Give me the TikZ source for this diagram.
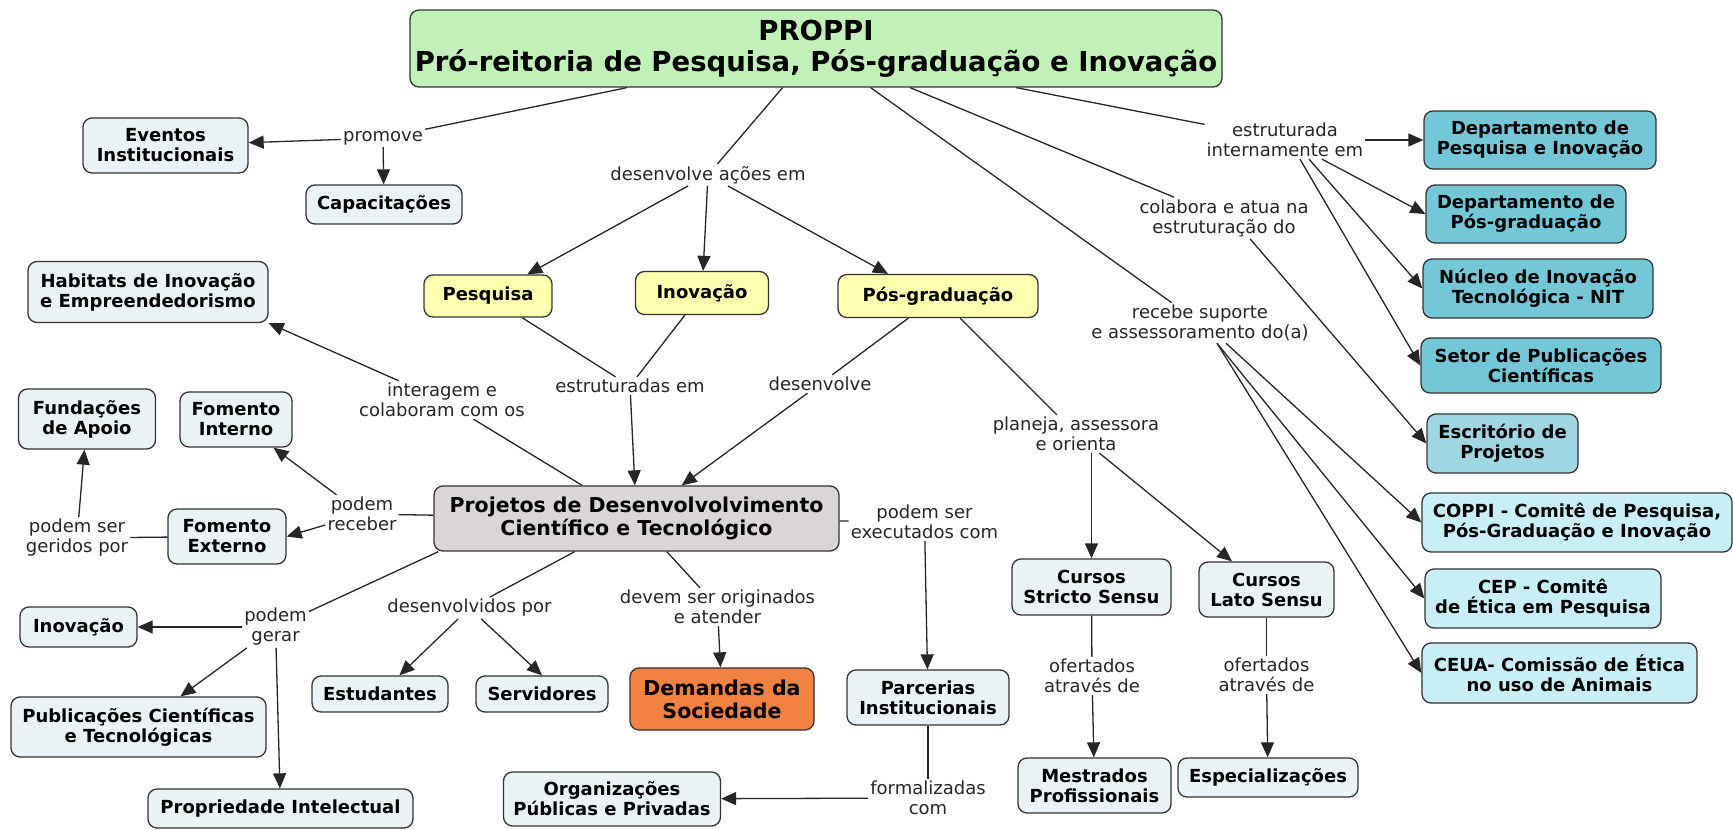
\documentclass[tikz,border=0pt]{standalone}
\usepackage{fontspec}
\setmainfont{DejaVu Sans}
\usepackage{tikz}
\usetikzlibrary{arrows.meta, positioning}

\definecolor{titlegreen}{RGB}{193,240,185}
\definecolor{paleblue}{RGB}{235,242,246}
\definecolor{paleyellow}{RGB}{255,255,176}
\definecolor{projgray}{RGB}{218,214,214}
\definecolor{demorange}{RGB}{243,130,66}
\definecolor{deptteal}{RGB}{116,199,214}
\definecolor{officeteal}{RGB}{160,214,226}
\definecolor{committee}{RGB}{200,238,246}

\newcommand{\boxfont}{\fontsize{18}{20}\selectfont\bfseries}
\newcommand{\linkfont}{\fontsize{18}{20}\selectfont}
\newcommand{\proppifont}{\fontsize{27.5}{31}\selectfont\bfseries}
\newcommand{\projfont}{\fontsize{20.5}{23}\selectfont\bfseries}

\tikzstyle{concept} = [rectangle, rounded corners=9pt, draw=black!80, line width=1.3pt,
    fill=paleblue, align=center, inner sep=2pt, font=\boxfont]
\tikzstyle{link} = [align=center, inner sep=2pt, font=\linkfont, text=black!85]
\tikzstyle{connector} = [line width=1.3pt, draw=black!85]
\tikzstyle{arrow} = [connector, -{Triangle[length=15pt,width=13pt]}]

\begin{document}
\begin{tikzpicture}[x=1pt, y=-1pt]
  \useasboundingbox (0,0) rectangle (1733,830);

  \node (proppi)    [concept, fill=titlegreen, font=\proppifont, minimum width=812pt, minimum height=77pt] at (816,48.5)
        {PROPPI\\Pró-reitoria de Pesquisa, Pós-graduação e Inovação};

  % left side
  \node (eventos)   [concept, minimum width=165pt, minimum height=55pt] at (165.5,145.5) {Eventos\\Institucionais};
  \node (capac)     [concept, minimum width=156pt, minimum height=39pt] at (384,204.5) {Capacitações};
  \node (habitats)  [concept, minimum width=240pt, minimum height=61pt] at (148,292) {Habitats de Inovação\\e Empreendedorismo};
  \node (fundacoes) [concept, minimum width=137pt, minimum height=60pt] at (87,419) {Fundações\\de Apoio};
  \node (fomint)    [concept, minimum width=112pt, minimum height=55pt] at (236,419.5) {Fomento\\Interno};
  \node (fomext)    [concept, minimum width=118pt, minimum height=55pt] at (227,536.5) {Fomento\\Externo};
  \node (inov2)     [concept, minimum width=117pt, minimum height=40pt] at (78.5,627) {Inovação};
  \node (publ)      [concept, minimum width=255pt, minimum height=60pt] at (138.5,727) {Publicações Científicas\\e Tecnológicas};
  \node (propint)   [concept, minimum width=265pt, minimum height=39pt] at (280.5,808.5) {Propriedade Intelectual};

  % centre
  \node (pesquisa)  [concept, fill=paleyellow, minimum width=128pt, minimum height=42pt] at (488,296) {Pesquisa};
  \node (inovacao)  [concept, fill=paleyellow, minimum width=133pt, minimum height=43pt] at (702,293) {Inovação};
  \node (posgrad)   [concept, fill=paleyellow, minimum width=200pt, minimum height=43pt] at (938,296) {Pós-graduação};
  \node (projetos)  [concept, fill=projgray, font=\projfont, minimum width=405pt, minimum height=65pt] at (636.5,518.5)
        {Projetos de Desenvolvolvimento\\Científico e Tecnológico};
  \node (estud)     [concept, minimum width=136pt, minimum height=36pt] at (380,694) {Estudantes};
  \node (serv)      [concept, minimum width=132pt, minimum height=36pt] at (542,694) {Servidores};
  \node (demandas)  [concept, fill=demorange, font=\projfont, minimum width=184pt, minimum height=62pt] at (722,699) {Demandas da\\Sociedade};
  \node (parcerias) [concept, minimum width=162pt, minimum height=55pt] at (928,697.5) {Parcerias\\Institucionais};
  \node (organiz)   [concept, minimum width=217pt, minimum height=54pt] at (612,799) {Organizações\\Públicas e Privadas};
  \node (stricto)   [concept, minimum width=159pt, minimum height=56pt] at (1091.5,587) {Cursos\\Stricto Sensu};
  \node (lato)      [concept, minimum width=135pt, minimum height=55pt] at (1266.5,589.5) {Cursos\\Lato Sensu};
  \node (mestrados) [concept, minimum width=153pt, minimum height=55pt] at (1094.5,785.5) {Mestrados\\Profissionais};
  \node (especial)  [concept, minimum width=180pt, minimum height=39pt] at (1268,777.5) {Especializações};

  % right side
  \node (deptpesq)  [concept, fill=deptteal, minimum width=232pt, minimum height=58pt] at (1540,140) {Departamento de\\Pesquisa e Inovação};
  \node (deptpos)   [concept, fill=deptteal, minimum width=200pt, minimum height=58pt] at (1526,214) {Departamento de\\Pós-graduação};
  \node (nit)       [concept, fill=deptteal, minimum width=230pt, minimum height=59pt] at (1538,288.5) {Núcleo de Inovação\\Tecnológica - NIT};
  \node (setor)     [concept, fill=deptteal, minimum width=240pt, minimum height=55pt] at (1541,365.5) {Setor de Publicações\\Científicas};
  \node (escrit)    [concept, fill=officeteal, minimum width=151pt, minimum height=59pt] at (1502.5,443.5) {Escritório de\\Projetos};
  \node (coppi)     [concept, fill=committee, minimum width=310pt, minimum height=59pt] at (1577,522.5) {COPPI - Comitê de Pesquisa,\\Pós-Graduação e Inovação};
  \node (cep)       [concept, fill=committee, minimum width=236pt, minimum height=59pt] at (1543,598.5) {CEP - Comitê\\de Ética em Pesquisa};
  \node (ceua)      [concept, fill=committee, minimum width=275pt, minimum height=60pt] at (1559.5,673) {CEUA- Comissão de Ética\\no uso de Animais};

  % linking phrases
  \node (promove)   [link] at (383,138) {promove};
  \node (desacoes)  [link] at (708,175) {desenvolve ações em};
  \node (estrutint) [link] at (1285,140) {estruturada\\internamente em};
  \node (colabora)  [link] at (1224,218) {colabora e atua na\\estruturação do};
  \node (recebe)    [link] at (1200,323) {recebe suporte\\e assessoramento do(a)};
  \node (interagem) [link] at (442,400) {interagem e\\colaboram com os};
  \node (estrut)    [link] at (630,386) {estruturadas em};
  \node (desenv)    [link] at (820,384) {desenvolve};
  \node (planeja)   [link] at (1076,434) {planeja, assessora\\e orienta};
  \node (podrec)    [link] at (362,514) {podem\\receber};
  \node (geridos)   [link] at (77,538) {podem ser\\geridos por};
  \node (podexe)    [link] at (924.5,522) {podem ser\\executados com};
  \node (podger)    [link] at (275.5,627) {podem\\gerar};
  \node (desvby)    [link] at (469.5,608) {desenvolvidos por};
  \node (devem)     [link] at (717.5,607) {devem ser originados\\e atender};
  \node (formal)    [link] at (928,798) {formalizadas\\com};
  \node (ofertss)   [link] at (1092,676) {ofertados\\através de};
  \node (ofertls)   [link] at (1266.5,675) {ofertados\\através de};

  \draw[connector] (proppi)   -- (promove);
  \draw[arrow]     (promove)  -- (eventos);
  \draw[arrow]     (promove)  -- (capac);
  \draw[connector] (proppi)   -- (desacoes);
  \draw[arrow]     (desacoes) -- (pesquisa);
  \draw[arrow]     (desacoes) -- (inovacao);
  \draw[arrow]     (desacoes) -- ([xshift=-50pt]posgrad.north);
  \draw[connector] (pesquisa) -- (estrut);
  \draw[connector] (inovacao) -- (estrut);
  \draw[arrow]     (estrut)   -- (projetos);
  \draw[connector] (posgrad)  -- (desenv);
  \draw[arrow]     (desenv)   -- (projetos);
  \draw[connector] (posgrad)  -- (planeja);
  \draw[arrow]     (planeja.south -| stricto.north) -- (stricto);
  \draw[arrow]     (planeja)  -- (lato);
  \draw[connector] (stricto)  -- (ofertss);
  \draw[arrow]     (ofertss)  -- (mestrados);
  \draw[connector] (lato)     -- (ofertls);
  \draw[arrow]     (ofertls)  -- (especial);

  \draw[connector] (projetos)  -- (interagem);
  \draw[arrow]     (interagem) -- (habitats.south east);
  \draw[connector] (projetos)  -- (podrec);
  \draw[arrow]     (podrec)    -- (fomint);
  \draw[arrow]     (podrec)    -- (fomext.east);
  \draw[connector] (fomext)    -- (geridos);
  \draw[arrow]     (geridos)   -- (fundacoes);
  \draw[connector] ([xshift=5pt]projetos.south west) -- (podger);
  \draw[arrow]     (podger)    -- (inov2);
  \draw[arrow]     (podger)    -- (publ);
  \draw[arrow]     (podger)    -- (propint);
  \draw[connector] (projetos)  -- (desvby);
  \draw[arrow]     (desvby)    -- (estud);
  \draw[arrow]     (desvby)    -- (serv.north);
  \draw[connector] (projetos)  -- (devem);
  \draw[arrow]     (devem)     -- (demandas);
  \draw[connector] (projetos)  -- (podexe);
  \draw[arrow]     (podexe)    -- (parcerias);
  \draw[connector] (parcerias) -- (formal);
  \draw[arrow]     (formal)    -- (organiz);

  \draw[connector] (proppi)    -- (estrutint);
  \draw[arrow]     (estrutint) -- (deptpesq);
  \draw[arrow]     ([xshift=37pt]estrutint.south) -- (deptpos.west);
  \draw[arrow]     ([xshift=24pt]estrutint.south) -- (nit.west);
  \draw[arrow]     ([xshift=15pt]estrutint.south) -- (setor.west);
  \draw[connector] (proppi)    -- (colabora);
  \draw[arrow]     ([xshift=26pt]colabora.south) -- (escrit.west);
  \draw[connector] (proppi)    -- (recebe);
  \draw[arrow]     ([xshift=26pt]recebe.south) -- (coppi.west);
  \draw[arrow]     ([xshift=17pt]recebe.south) -- (cep.west);
  \draw[arrow]     ([xshift=17pt]recebe.south) -- (ceua.west);
\end{tikzpicture}
\end{document}
